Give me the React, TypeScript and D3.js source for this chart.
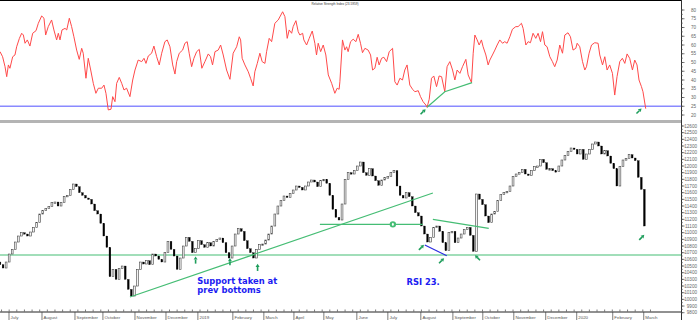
import React from "react";
import * as d3 from "d3";

const W = 698;
const H = 320;

// ---- axis labels ----
const monthLabels = ["July", "August", "September", "October", "November", "December", "2019", "February", "March", "April", "May", "June", "July", "August", "September", "October", "November", "December", "2020", "February", "March"];
// month starts, in trading-day units from the left edge
const monthDays = [5.9, 27.5, 49.1, 67.4, 88.4, 108.7, 129.6, 152.5, 172.8, 192.5, 212.1, 233.7, 254, 275.6, 296.6, 316.2, 336.5, 357.4, 377.7, 401.3, 421.6];
const rsiTicks = [80, 75, 70, 65, 60, 55, 50, 45, 40, 35, 30, 25, 20];
const priceTicks = [12600, 12500, 12400, 12300, 12200, 12100, 12000, 11900, 11800, 11700, 11600, 11500, 11400, 11300, 11200, 11100, 11000, 10900, 10800, 10700, 10600, 10500, 10400, 10300, 10200, 10100, 10000, 9900, 9800];

// ---- RSI series (trading day, value) ----
const rsiDay = [0, 1.7, 3.3, 4.4, 5.5, 6.5, 8.3, 9.8, 10.9, 12.7, 14.2, 15.3, 16.4, 17.9, 19.6, 21.4, 23.6, 25.1, 27.3, 28.8, 29.9, 31.6, 33.8, 35.3, 37.1, 38.2, 39.3, 40.6, 42.6, 43.7, 45.4, 46.9, 48.4, 50.2, 51.9, 53.5, 54.5, 56.3, 57.8, 59.4, 61.1, 62.8, 64.4, 66.6, 68.1, 69.4, 70.9, 72.7, 73.8, 75.3, 76.4, 78.1, 79.7, 81.2, 82.9, 85.1, 86.9, 88.4, 90.5, 92.8, 94.3, 95.6, 97.1, 99.3, 100.8, 102.6, 104.3, 105.9, 108, 109.5, 111.3, 113.1, 114.6, 115.7, 117.4, 119.6, 121.1, 122.6, 123.9, 125.5, 127, 128.8, 130.5, 132.2, 134.2, 136.4, 137.9, 139.2, 140.8, 142.9, 144.5, 146.2, 148.4, 150.6, 152.7, 155, 156.7, 157.6, 158.6, 160.4, 162.6, 164.1, 165.8, 166.9, 168.5, 170.2, 171.7, 173.5, 174.6, 176.3, 177.9, 180, 182.2, 185.1, 186.6, 188.1, 189.4, 191, 192, 193.8, 195.3, 196.4, 198.2, 199, 200.8, 202.5, 204.5, 206.2, 207.3, 208.4, 210, 211.7, 213.4, 215, 217.2, 219.3, 220.8, 222.1, 222.6, 224.3, 225.9, 227, 228, 229.6, 231.3, 233.1, 234.6, 236.1, 237.4, 239, 241.1, 242.7, 244, 245.5, 247, 248.3, 249.9, 251.4, 253.2, 254.9, 257.1, 258.6, 260.1, 261.9, 263.6, 265.1, 266.6, 268.4, 270.2, 271.7, 273.9, 275.4, 277.1, 278.9, 279.7, 281.1, 282.6, 284.1, 285.9, 287.6, 289.2, 291.3, 292.8, 294.6, 296.4, 297.9, 299.4, 301.2, 302.9, 305.1, 306.6, 308.8, 309.9, 311, 312.5, 313.8, 315.3, 316.4, 318.2, 319.7, 320.8, 322.5, 324.1, 325.6, 327.3, 329.1, 330.6, 332.1, 333.9, 335.6, 337.8, 339.3, 341.5, 342.6, 344.4, 345.9, 347.4, 349.1, 350.9, 352.4, 354, 355.3, 356.8, 358.3, 360.1, 361.8, 363.3, 364.9, 366.6, 368.4, 369.9, 372, 373.6, 375.3, 377.1, 378, 379.7, 381.5, 383, 384.1, 385.8, 387.4, 389.5, 391.7, 392.8, 394.6, 396.1, 397.6, 399.3, 401.1, 402.6, 404.1, 405.9, 407.6, 409.2, 410.7, 412.4, 414.2, 415.7, 417.2, 418.5, 420.1, 421.1, 422.9];
const rsiVal = [56.2, 53.3, 47.6, 41.9, 48.6, 46.7, 53.3, 54.3, 59, 63.8, 66.7, 65.7, 61, 62.9, 59.4, 66.7, 68.2, 72.4, 76.6, 75.3, 65.7, 70.5, 74.3, 68.6, 62.9, 66.7, 62.9, 68.6, 69.5, 68.6, 75.3, 70.5, 64.7, 57.1, 51.8, 58.1, 55.3, 41, 52.4, 45.7, 38.1, 32.4, 35.3, 35.3, 37.1, 32.4, 22.9, 23.3, 30.5, 27.6, 38.1, 41.5, 38.1, 34.3, 35.3, 30.5, 40, 45.7, 51.4, 50.5, 52.4, 49.5, 53.7, 55.3, 59.4, 53.3, 48.6, 55.3, 61.9, 62.9, 59, 48.6, 43.4, 50.5, 55.3, 57.1, 61, 61.9, 55.3, 47.6, 52.4, 56.2, 57.5, 46.7, 50.5, 54.9, 53.3, 48.6, 56.2, 57.1, 60, 54.3, 45.7, 40.4, 55.3, 59, 64.7, 62.9, 52.4, 48.6, 44.7, 41, 36.6, 44.7, 49.5, 55.3, 50.5, 49.5, 56.2, 63.8, 61.9, 72.4, 74.3, 79, 76.2, 63.8, 68.6, 66.7, 70.5, 73.9, 67.6, 65.7, 66.7, 62.9, 60, 63.8, 68, 61, 54.3, 61, 56.2, 60, 54.3, 42.9, 38.1, 32.4, 35.3, 34.7, 39, 62.9, 57.1, 59, 56.2, 61.9, 63.3, 61.9, 66.1, 61, 55.6, 58.1, 57.1, 54.3, 45.7, 46.7, 53, 48.6, 52.4, 53, 50.5, 56.2, 58.1, 39, 37.1, 41, 40, 45.7, 48.6, 37.1, 34.7, 33.3, 33.9, 30.5, 27.6, 25.7, 24.4, 29, 41, 42.3, 36.2, 42.3, 41.9, 33.3, 47.6, 50.5, 45.7, 40, 45.7, 43.8, 47.6, 51.8, 42.9, 38.5, 55.3, 65.7, 62.9, 60, 62.9, 59, 54.3, 48.6, 51.4, 54.3, 57.1, 60, 62.9, 61, 61.9, 61, 64.7, 69, 70.5, 70.5, 72.4, 69.5, 60, 61.9, 61.3, 66.7, 63.8, 66.7, 61.9, 67.6, 60, 59, 53.3, 50.5, 47.6, 51.4, 60, 55.3, 65.7, 67, 64.7, 57.1, 58.1, 61, 59, 50.5, 45.7, 47.6, 55.3, 60, 61.3, 61, 54.3, 48.6, 53.3, 45.7, 48.6, 43.8, 31.4, 41.9, 50.5, 52.4, 49.5, 54.9, 52.4, 45.7, 51.4, 48.6, 40, 36.2, 33.3, 23.6];

// ---- price bars: one bar per two trading days ----
const barStep = 2;
const firstOpen = 10560;
const closeVal = [10520, 10470, 10560, 10680, 10750, 10860, 10950, 11000, 10980, 10950, 11010, 11080, 11150, 11280, 11330, 11360, 11390, 11450, 11460, 11400, 11450, 11540, 11560, 11650, 11730, 11690, 11600, 11560, 11520, 11500, 11430, 11330, 11280, 11140, 10950, 10780, 10340, 10450, 10300, 10460, 10500, 10300, 10150, 10050, 10200, 10450, 10560, 10530, 10580, 10520, 10680, 10650, 10600, 10560, 10700, 10870, 10750, 10650, 10450, 10620, 10800, 10930, 10870, 10700, 10760, 10880, 10820, 10780, 10850, 10800, 10870, 10900, 10920, 10850, 10700, 10620, 10800, 10980, 11060, 11020, 10880, 10760, 10700, 10620, 10750, 10820, 10830, 10890, 10980, 11100, 11280, 11400, 11480, 11550, 11530, 11590, 11640, 11700, 11680, 11640, 11700, 11760, 11790, 11760, 11690, 11780, 11800, 11740, 11560, 11350, 11230, 11190, 11430, 11800, 11900, 11880, 11930, 12000, 12060, 11900, 11860, 11960, 11850, 11780, 11710, 11790, 11830, 11840, 11900, 11930, 11700, 11560, 11520, 11600, 11540, 11400, 11300, 11250, 11100, 10980, 10860, 10930, 11080, 11100, 11020, 10850, 10730, 11000, 11020, 10850, 10920, 10980, 11050, 11080, 10960, 10720, 11580, 11500, 11420, 11250, 11150, 11280, 11320, 11480, 11570, 11600, 11620, 11700, 11840, 11880, 11900, 11950, 11880, 11860, 11930, 11990, 12000, 12100, 12050, 11950, 11960, 11930, 11920, 12000, 12090, 12160, 12220, 12270, 12250, 12180, 12250, 12100, 12180, 12250, 12330, 12360, 12300, 12180, 12230, 12150, 12040, 11960, 11700, 11990, 12090, 12110, 12170, 12120, 12080, 11830, 11650, 11100];

// ---- annotations (trading day, value) ----
const rsiLevel = 25;
const supportLevel = 10665;
const trendLine: [number, number][] = [[85.1, 10035], [283.5, 11595]];
const midLine: [number, number][] = [[209.5, 11125], [276.9, 11125]];
const circleMark: [number, number] = [257.3, 11125];
const triangleLine: [number, number][] = [[283.5, 11200], [320.1, 11065]];
const blueLine: [number, number][] = [[278.2, 10815], [292.6, 10655]];
const rsiGreenLine: [number, number][] = [[279.7, 24.4], [291.3, 33.3], [309.2, 38.5]];
const upArrows: [number, number][] = [[128.1, 10590], [150.6, 10565], [168.7, 10480]];
const upRightArrows: [number, number][] = [[276, 10780], [289.2, 10580], [420.3, 10930]];
const upLeftArrows: [number, number][] = [[312.7, 10625]];
const rsiArrows: [number, number][] = [[277.1, 21.9], [418.5, 22.3]];
const supportText = ["Support taken at", "prev bottoms"];
const supportTextPos: [number, number][] = [[129.2, 10237], [129.2, 10102]];
const rsiText = "RSI 23.";
const rsiTextPos: [number, number] = [266.2, 10215];
const title = "Relative Strength Index (23.5959)";

const AXIS_X = 681;
const x = d3.scaleLinear().domain([0, 446]).range([0, AXIS_X]);
const yR = d3.scaleLinear().domain([20, 80]).range([115, 10]);
const yP = d3.scaleLinear().domain([9800, 12600]).range([312.7, 126]);

const GREEN = "#45bd74";
const ARROW = "#1f9e5c";
const BLUE_TXT = "#1c1cf2";
const axisFont = "'Liberation Sans', Arial, sans-serif";

function Arrow({ cx, cy, dx, dy }: { cx: number; cy: number; dx: number; dy: number }) {
  const L = 3.6;
  const tx = cx + dx * L, ty = cy + dy * L;
  const bx = cx - dx * L, by = cy - dy * L;
  const hx = tx - dx * 3.2, hy = ty - dy * 3.2;
  const px = -dy, py = dx;
  const pts = [[tx, ty], [hx + px * 2, hy + py * 2], [hx - px * 2, hy - py * 2]].map((p) => p.join(",")).join(" ");
  return (
    <g>
      <line x1={bx} y1={by} x2={hx} y2={hy} stroke={ARROW} strokeWidth={1.6} />
      <polygon points={pts} fill={ARROW} />
    </g>
  );
}

export default function App() {
  const rsiPts = d3.zip(rsiDay, rsiVal) as [number, number][];
  const rsiLine = d3.line<[number, number]>().x((d) => x(d[0])).y((d) => yR(d[1]))(rsiPts) || "";
  const lineP = d3.line<[number, number]>().x((d) => x(d[0])).y((d) => yP(d[1]));
  const lineR = d3.line<[number, number]>().x((d) => x(d[0])).y((d) => yR(d[1]));

  const bars = closeVal.map((c, i) => {
    const o = i === 0 ? firstOpen : closeVal[i - 1];
    return { day: i * barStep, o, c };
  });

  const weekTicks = d3.range(1, 430, 5);
  const rsiMinor = d3.range(20, 80.1, 2.5);
  const priceMinor = d3.range(9800, 12601, 50);
  const s = Math.SQRT1_2;

  return (
    <svg width={W} height={H} style={{ position: "fixed", left: 0, top: 0, background: "#fff" }} xmlns="http://www.w3.org/2000/svg">
      <rect x={0} y={0} width={W} height={H} fill="#fff" />
      {/* frame */}
      <line x1={0} y1={0.5} x2={AXIS_X} y2={0.5} stroke="#000" strokeWidth={1} />
      <rect x={0} y={120} width={AXIS_X} height={3} fill="#b4b4b4" />

      {/* ---- RSI panel ---- */}
      <text x={335} y={5.2} fontSize={4.3} fontFamily={axisFont} fill="#333" textAnchor="middle" textLength={47} lengthAdjust="spacingAndGlyphs">{title}</text>
      <line x1={0} y1={yR(rsiLevel)} x2={AXIS_X} y2={yR(rsiLevel)} stroke="#8a8aff" strokeWidth={1.5} />
      <path d={rsiLine} fill="none" stroke="#ff4a4a" strokeWidth={1} strokeLinejoin="round" />
      <path d={lineR(rsiGreenLine) || ""} fill="none" stroke={GREEN} strokeWidth={1.2} />
      {rsiArrows.map((a, i) => (
        <Arrow key={"ra" + i} cx={x(a[0])} cy={yR(a[1])} dx={s} dy={-s} />
      ))}

      {/* ---- price panel ---- */}
      <line x1={0} y1={yP(supportLevel)} x2={AXIS_X} y2={yP(supportLevel)} stroke={GREEN} strokeWidth={1.2} />
      {bars.map((b, i) => {
        const y1 = yP(Math.max(b.o, b.c));
        const y2 = yP(Math.min(b.o, b.c));
        const h = Math.max(1.5, y2 - y1);
        const up = b.c >= b.o;
        return (
          <rect key={"b" + i} x={x(b.day) - 0.9} y={y1} width={1.8} height={h}
            fill={up ? "#f4f4f4" : "#000000"} stroke={up ? "#444" : "#000"} strokeWidth={up ? 0.6 : 0.3} />
        );
      })}
      <path d={lineP(trendLine) || ""} fill="none" stroke={GREEN} strokeWidth={1.2} />
      <path d={lineP(midLine) || ""} fill="none" stroke={GREEN} strokeWidth={1.2} />
      <path d={lineP(triangleLine) || ""} fill="none" stroke={GREEN} strokeWidth={1.2} />
      <path d={lineP(blueLine) || ""} fill="none" stroke="#2a2ae0" strokeWidth={1.2} />
      <circle cx={x(circleMark[0])} cy={yP(circleMark[1])} r={3.2} fill={GREEN} />
      <ellipse cx={x(circleMark[0])} cy={yP(circleMark[1])} rx={0.9} ry={1.6} fill="#fff" />
      {upArrows.map((a, i) => (
        <Arrow key={"ua" + i} cx={x(a[0])} cy={yP(a[1])} dx={0} dy={-1} />
      ))}
      {upRightArrows.map((a, i) => (
        <Arrow key={"ura" + i} cx={x(a[0])} cy={yP(a[1])} dx={s} dy={-s} />
      ))}
      {upLeftArrows.map((a, i) => (
        <Arrow key={"ula" + i} cx={x(a[0])} cy={yP(a[1])} dx={-s} dy={-s} />
      ))}
      {supportText.map((t, i) => (
        <text key={"st" + i} x={x(supportTextPos[i][0])} y={yP(supportTextPos[i][1])} fontSize={8.4}
          fontWeight="bold" fontFamily="'DejaVu Sans', Verdana, sans-serif" fill={BLUE_TXT}>{t}</text>
      ))}
      <text x={x(rsiTextPos[0])} y={yP(rsiTextPos[1])} fontSize={8.4} fontWeight="bold"
        fontFamily="'DejaVu Sans', Verdana, sans-serif" fill={BLUE_TXT}>{rsiText}</text>

      {/* ---- right axis ---- */}
      <line x1={AXIS_X + 0.5} y1={0} x2={AXIS_X + 0.5} y2={H} stroke="#333" strokeWidth={1} />
      {rsiMinor.map((v, i) => (
        <line key={"rm" + i} x1={AXIS_X} x2={AXIS_X + 2} y1={yR(v)} y2={yR(v)} stroke="#555" strokeWidth={0.6} />
      ))}
      {rsiTicks.map((v) => (
        <g key={"rt" + v}>
          <line x1={AXIS_X} x2={AXIS_X + 3.5} y1={yR(v)} y2={yR(v)} stroke="#444" strokeWidth={0.7} />
          <text x={696} y={yR(v) + 1.6} fontSize={4.6} fontFamily={axisFont} fill="#666" textAnchor="end">{v}</text>
        </g>
      ))}
      {priceMinor.map((v, i) => (
        <line key={"pm" + i} x1={AXIS_X} x2={AXIS_X + 2} y1={yP(v)} y2={yP(v)} stroke="#555" strokeWidth={0.6} />
      ))}
      {priceTicks.map((v) => (
        <g key={"pt" + v}>
          <line x1={AXIS_X} x2={AXIS_X + 3.5} y1={yP(v)} y2={yP(v)} stroke="#444" strokeWidth={0.7} />
          <text x={697} y={yP(v) + 1.6} fontSize={4.6} fontFamily={axisFont} fill="#666" textAnchor="end">{v}</text>
        </g>
      ))}

      {/* ---- bottom axis ---- */}
      <line x1={0} y1={312} x2={AXIS_X} y2={312} stroke="#222" strokeWidth={1} />
      {weekTicks.map((d, i) => (
        <line key={"wk" + i} x1={x(d)} x2={x(d)} y1={309.5} y2={311.5} stroke="#444" strokeWidth={0.7} />
      ))}
      {monthDays.map((d, i) => (
        <g key={"mo" + i}>
          <line x1={x(d)} x2={x(d)} y1={312} y2={320} stroke="#444" strokeWidth={0.7} />
          <text x={x(d) + 1.6} y={318.8} fontSize={4.4} fontFamily={axisFont} fill="#555">{monthLabels[i]}</text>
        </g>
      ))}
    </svg>
  );
}
